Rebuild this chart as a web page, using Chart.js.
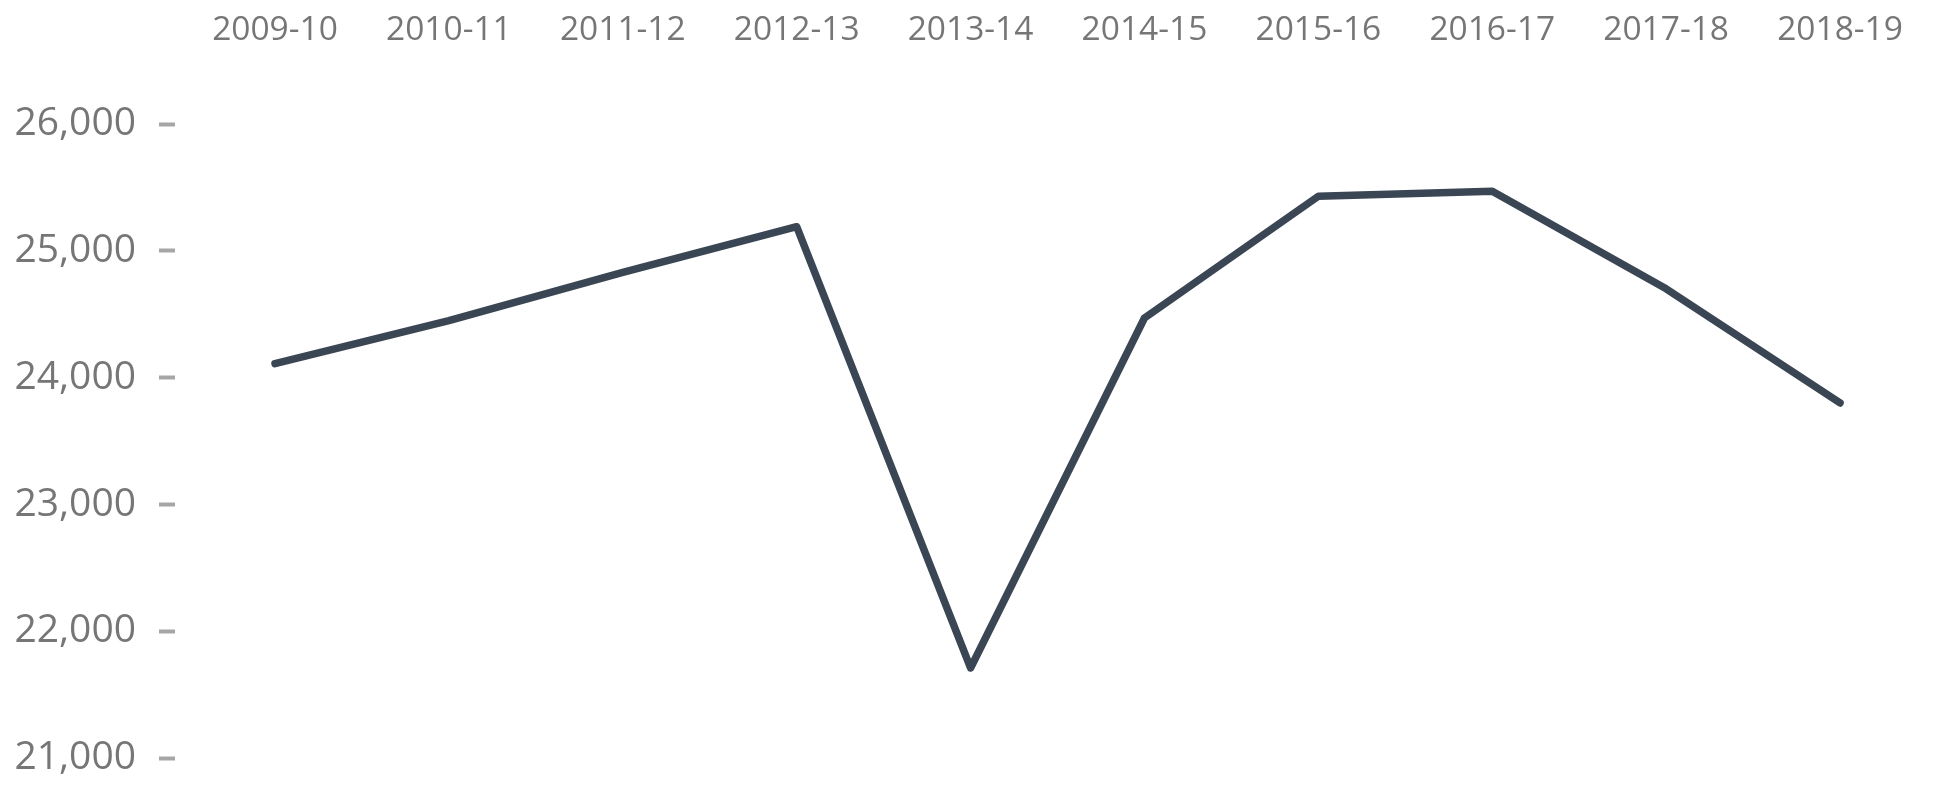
<!DOCTYPE html>
<html lang="en">
<head>
    <meta charset="UTF-8">
    <title>Yearly values 2009-10 to 2018-19</title>
    <script src="https://cdn.jsdelivr.net/npm/chart.js"></script>
    <style>
        body {
            margin: 0;
            background-color: #ffffff;
        }
        .chart-container {
            width: 1951px;
            height: 797px;
        }
    </style>
</head>
<body>
    <div class="chart-container">
        <canvas id="lineChart"></canvas>
    </div>

    <script>
        const years = ['2009-10', '2010-11', '2011-12', '2012-13', '2013-14',
                       '2014-15', '2015-16', '2016-17', '2017-18', '2018-19'];
        const values = [24110, 24450, 24830, 25190, 21710, 24470, 25430, 25470, 24700, 23800];
        const yTicks = [21000, 22000, 23000, 24000, 25000, 26000];

        const textGrey = '#767676';

        const ctx = document.getElementById('lineChart').getContext('2d');
        new Chart(ctx, {
            type: 'line',
            data: {
                datasets: [{
                    data: values.map((v, i) => ({ x: i, y: v })),
                    borderColor: '#3b4654',
                    borderWidth: 7.5,
                    borderCapStyle: 'round',
                    borderJoinStyle: 'round',
                    pointRadius: 0,
                    tension: 0,
                    fill: false
                }]
            },
            options: {
                responsive: true,
                maintainAspectRatio: false,
                animation: false,
                layout: {
                    padding: { top: 0, right: 24, bottom: 39, left: 0 }
                },
                plugins: {
                    legend: { display: false },
                    tooltip: { enabled: false }
                },
                scales: {
                    x: {
                        type: 'linear',
                        position: 'top',
                        min: -0.575,
                        max: 9.5,
                        grid: { display: false },
                        border: { display: false },
                        ticks: {
                            stepSize: 1,
                            includeBounds: false,
                            autoSkip: false,
                            maxRotation: 0,
                            padding: 65,
                            color: textGrey,
                            font: { family: '"Open Sans"', size: 33.5 },
                            callback: (v) => Number.isInteger(v) ? years[v] : null
                        },
                        afterFit: (scale) => {
                            scale.height = 124;
                            scale.paddingLeft = 0;
                            scale.paddingRight = 0;
                        }
                    },
                    y: {
                        min: yTicks[0],
                        max: yTicks[yTicks.length - 1],
                        grid: {
                            drawOnChartArea: false,
                            drawTicks: true,
                            tickLength: 16,
                            tickWidth: 4,
                            tickColor: '#a6a6a6'
                        },
                        border: { display: false },
                        afterBuildTicks: (scale) => {
                            scale.ticks = yTicks.map(v => ({ value: v }));
                        },
                        ticks: {
                            padding: 23,
                            color: textGrey,
                            font: { family: '"Open Sans"', size: 39 },
                            callback: (v) => v.toLocaleString('en-US')
                        },
                        afterFit: (scale) => {
                            scale.width = 175;
                            scale.paddingTop = 0;
                            scale.paddingBottom = 0;
                        }
                    }
                }
            }
        });
    </script>
</body>
</html>
